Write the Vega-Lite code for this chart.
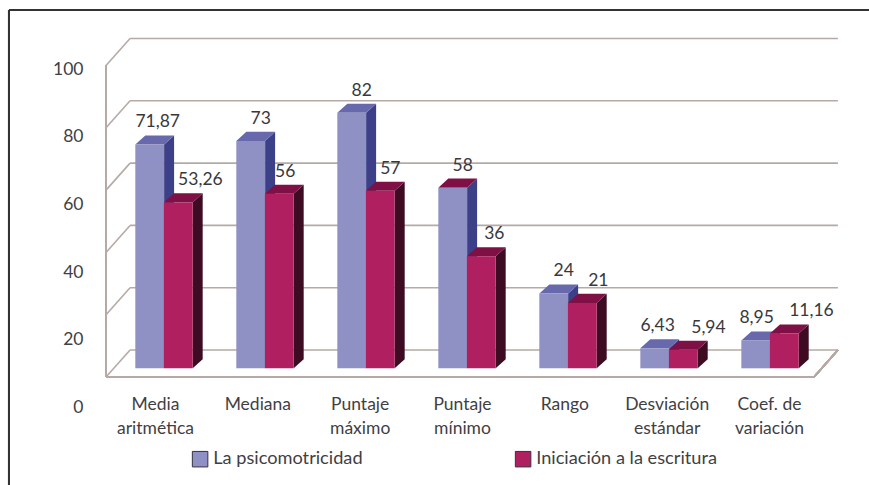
{"$schema":"https://vega.github.io/schema/vega-lite/v6.json","width":869,"height":485,"autosize":"none","padding":0,"background":"#ffffff","config":{"view":{"stroke":null},"font":"Lato","text":{"font":"Lato"}},"data":{"values":[
{"categoria":"Media aritmética","orden":0,"serie":"La psicomotricidad","valor":71.87,"etiqueta":"71,87"},
{"categoria":"Mediana","orden":1,"serie":"La psicomotricidad","valor":73,"etiqueta":"73"},
{"categoria":"Puntaje máximo","orden":2,"serie":"La psicomotricidad","valor":82,"etiqueta":"82"},
{"categoria":"Puntaje mínimo","orden":3,"serie":"La psicomotricidad","valor":58,"etiqueta":"58"},
{"categoria":"Rango","orden":4,"serie":"La psicomotricidad","valor":24,"etiqueta":"24"},
{"categoria":"Desviación estándar","orden":5,"serie":"La psicomotricidad","valor":6.43,"etiqueta":"6,43"},
{"categoria":"Coef. de variación","orden":6,"serie":"La psicomotricidad","valor":8.95,"etiqueta":"8,95"},
{"categoria":"Media aritmética","orden":0,"serie":"Iniciación a la escritura","valor":53.26,"etiqueta":"53,26"},
{"categoria":"Mediana","orden":1,"serie":"Iniciación a la escritura","valor":56,"etiqueta":"56"},
{"categoria":"Puntaje máximo","orden":2,"serie":"Iniciación a la escritura","valor":57,"etiqueta":"57"},
{"categoria":"Puntaje mínimo","orden":3,"serie":"Iniciación a la escritura","valor":36,"etiqueta":"36"},
{"categoria":"Rango","orden":4,"serie":"Iniciación a la escritura","valor":21,"etiqueta":"21"},
{"categoria":"Desviación estándar","orden":5,"serie":"Iniciación a la escritura","valor":5.94,"etiqueta":"5,94"},
{"categoria":"Coef. de variación","orden":6,"serie":"Iniciación a la escritura","valor":11.16,"etiqueta":"11,16"}
]},
"resolve":{"scale":{"x":"independent","y":"independent"},"axis":{"x":"independent","y":"independent"}},
"layer":[
{"layer":[
{"data":{"values":[{"v":0},{"v":20},{"v":40},{"v":60},{"v":80},{"v":100}]},
 "transform":[{"calculate":"datum.v+5.87","as":"atras"},{"calculate":"datum.v-2.8","as":"frente"}],
 "layer":[
 {"mark":{"type":"rule","color":"#b5aaa5","strokeWidth":1.6},"encoding":{"x":{"datum":-0.052,"type":"quantitative","scale":{"domain":[-1.3396,7.264],"nice":false,"zero":false},"axis":null},"x2":{"datum":6.956},"y":{"field":"atras","type":"quantitative","scale":{"domain":[-37.46,118.23],"nice":false,"zero":false},"axis":null}}},
 {"mark":{"type":"rule","color":"#b5aaa5","strokeWidth":1.6},"encoding":{"x":{"datum":-0.29,"type":"quantitative","scale":{"domain":[-1.3396,7.264],"nice":false,"zero":false},"axis":null},"x2":{"datum":-0.052},"y":{"field":"frente","type":"quantitative","scale":{"domain":[-37.46,118.23],"nice":false,"zero":false},"axis":null},"y2":{"field":"atras"}}}
 ]},
{"mark":{"type":"rule","color":"#b5aaa5","strokeWidth":1.6},"encoding":{"x":{"datum":-0.29,"type":"quantitative","scale":{"domain":[-1.3396,7.264],"nice":false,"zero":false},"axis":null},"y":{"datum":-2.8,"type":"quantitative","scale":{"domain":[-37.46,118.23],"nice":false,"zero":false},"axis":null},"y2":{"datum":97.2}}},
{"mark":{"type":"rule","color":"#b5aaa5","strokeWidth":2},"encoding":{"x":{"datum":-0.29,"type":"quantitative","scale":{"domain":[-1.3396,7.264],"nice":false,"zero":false},"axis":null},"x2":{"datum":6.72},"y":{"datum":-2.8,"type":"quantitative","scale":{"domain":[-37.46,118.23],"nice":false,"zero":false},"axis":null}}},
{"mark":{"type":"rule","color":"#b5aaa5","strokeWidth":1.6},"encoding":{"x":{"datum":6.72,"type":"quantitative","scale":{"domain":[-1.3396,7.264],"nice":false,"zero":false},"axis":null},"x2":{"datum":6.956},"y":{"datum":-2.8,"type":"quantitative","scale":{"domain":[-37.46,118.23],"nice":false,"zero":false},"axis":null},"y2":{"datum":5.87}}},
{"mark":{"type":"rule","color":"#333333","strokeWidth":2},"encoding":{"x":{"datum":-1.2505,"type":"quantitative","scale":{"domain":[-1.3396,7.264],"nice":false,"zero":false},"axis":null},"x2":{"datum":7.264},"y":{"datum":115.02,"type":"quantitative","scale":{"domain":[-37.46,118.23],"nice":false,"zero":false},"axis":null}}},
{"mark":{"type":"rule","color":"#333333","strokeWidth":2},"encoding":{"x":{"datum":-1.2505,"type":"quantitative","scale":{"domain":[-1.3396,7.264],"nice":false,"zero":false},"axis":null},"y":{"datum":115.02,"type":"quantitative","scale":{"domain":[-37.46,118.23],"nice":false,"zero":false},"axis":null},"y2":{"datum":-37.46}}},
{"transform":[{"calculate":"datum.orden+(datum.serie=='La psicomotricidad'?0:0.283)","as":"x0"},{"calculate":"datum.x0+0.285","as":"x1"},{"calculate":"datum.serie+datum.categoria","as":"clave"}],
 "layer":[
 {"transform":[{"calculate":"[0,1]","as":"t"},{"flatten":["t"]},{"calculate":"datum.x1+datum.t*0.099","as":"xa"},{"calculate":"datum.valor+datum.t*2.9","as":"ya"},{"calculate":"datum.t*2.9","as":"yb"},{"calculate":"datum.serie+' lado'","as":"cara"}],
  "mark":{"type":"area","orient":"vertical","line":false},
  "encoding":{"x":{"field":"xa","type":"quantitative","scale":{"domain":[-1.3396,7.264],"nice":false,"zero":false},"axis":null},"y":{"field":"ya","type":"quantitative","stack":null,"scale":{"domain":[-37.46,118.23],"nice":false,"zero":false},"axis":null},"y2":{"field":"yb"},"detail":{"field":"clave"},
  "fill":{"field":"cara","type":"nominal","scale":{"domain":["La psicomotricidad","Iniciación a la escritura","La psicomotricidad lado","Iniciación a la escritura lado","La psicomotricidad tapa","Iniciación a la escritura tapa"],"range":["#8f90c4","#b01f5f","#3b4088","#3d0b22","#6868ac","#7e1045"]},"legend":{"title":null,"orient":"none","legendX":191,"legendY":450,"direction":"horizontal","columns":2,"columnPadding":150,"values":["La psicomotricidad","Iniciación a la escritura"],"symbolType":"square","symbolSize":240,"symbolStrokeColor":"#333340","symbolStrokeWidth":1,"labelFont":"Lato","labelFontSize":18.2,"labelColor":"#3f3f44","labelOffset":4,"labelLimit":260}}}},
 {"transform":[{"calculate":"[0,1]","as":"t"},{"flatten":["t"]},{"calculate":"datum.x0+datum.t*0.099","as":"xa"},{"calculate":"datum.xa+0.285","as":"xb"},{"calculate":"datum.valor+datum.t*2.9","as":"ya"},{"calculate":"(datum.categoria=='Puntaje mínimo'?'Iniciación a la escritura':datum.serie)+' tapa'","as":"cara"}],
  "mark":{"type":"area","orient":"horizontal","line":false},
  "encoding":{"y":{"field":"ya","type":"quantitative","scale":{"domain":[-37.46,118.23],"nice":false,"zero":false},"axis":null},"x":{"field":"xa","type":"quantitative","stack":null,"scale":{"domain":[-1.3396,7.264],"nice":false,"zero":false},"axis":null},"x2":{"field":"xb"},"detail":{"field":"clave"},"fill":{"field":"cara","type":"nominal","legend":{"title":null,"orient":"none","legendX":191,"legendY":450,"direction":"horizontal","columns":2,"columnPadding":150,"values":["La psicomotricidad","Iniciación a la escritura"],"symbolType":"square","symbolSize":240,"symbolStrokeColor":"#333340","symbolStrokeWidth":1,"labelFont":"Lato","labelFontSize":18.2,"labelColor":"#3f3f44","labelOffset":4,"labelLimit":260}}}},
 {"transform":[{"calculate":"datum.serie","as":"cara"}],
  "mark":{"type":"bar"},
  "encoding":{"x":{"field":"x0","type":"quantitative","scale":{"domain":[-1.3396,7.264],"nice":false,"zero":false},"axis":null},"x2":{"field":"x1"},"y":{"field":"valor","type":"quantitative","stack":null,"scale":{"domain":[-37.46,118.23],"nice":false,"zero":false},"axis":null},"y2":{"datum":0},
  "fill":{"field":"cara","type":"nominal","legend":{"title":null,"orient":"none","legendX":191,"legendY":450,"direction":"horizontal","columns":2,"columnPadding":150,"values":["La psicomotricidad","Iniciación a la escritura"],"symbolType":"square","symbolSize":240,"symbolStrokeColor":"#333340","symbolStrokeWidth":1,"labelFont":"Lato","labelFontSize":18.2,"labelColor":"#3f3f44","labelOffset":4,"labelLimit":260}}}},
 {"transform":[{"calculate":"datum.x0+0.1425+0.099+({'71,87':-0.02,'53,26':0.12,'56':-0.04,'36':0.03,'21':0.06,'6,43':-0.07,'5,94':0.15,'8,95':-0.09,'11,16':0.17}[datum.etiqueta]||0)","as":"xt"},{"calculate":"datum.valor+7.1","as":"yt"}],
  "mark":{"type":"text","font":"Lato","fontSize":17.5,"color":"#38383c","baseline":"middle","align":"center"},
  "encoding":{"x":{"field":"xt","type":"quantitative","scale":{"domain":[-1.3396,7.264],"nice":false,"zero":false},"axis":null},"y":{"field":"yt","type":"quantitative","scale":{"domain":[-37.46,118.23],"nice":false,"zero":false},"axis":null},"text":{"field":"etiqueta"}}}
 ]}
]},
{"transform":[{"filter":"datum.serie=='La psicomotricidad'"}],
 "mark":{"type":"point","opacity":0},
 "encoding":{
 "x":{"field":"categoria","type":"nominal","sort":null,"scale":{"type":"point","padding":0,"domain":["Media aritmética","Mediana","Puntaje máximo","Puntaje mínimo","Rango","Desviación estándar","Coef. de variación"],"range":[155,769]},"axis":{"title":null,"domain":false,"ticks":false,"grid":false,"labelAngle":0,"labelPadding":0,"offset":-90,"labelFont":"Lato","labelFontSize":17.5,"labelColor":"#3f3f44","labelLineHeight":24,"labelOverlap":false,"labelBaseline":"top","labelExpr":"split(replace(replace(replace(replace(datum.label,'Media a','Media|a'),'Puntaje m','Puntaje|m'),'Desviación e','Desviación|e'),'de v','de|v'),'|')"}},
 "y":{"field":"valor","type":"quantitative","scale":{"domain":[-23.0,120.5],"nice":false,"zero":false},"axis":{"title":null,"values":[0,20,40,60,80,100],"domain":false,"ticks":false,"grid":false,"labelPadding":0,"offset":-83,"labelFont":"Lato","labelFontSize":17.5,"labelColor":"#3f3f44"}}}}
]}
